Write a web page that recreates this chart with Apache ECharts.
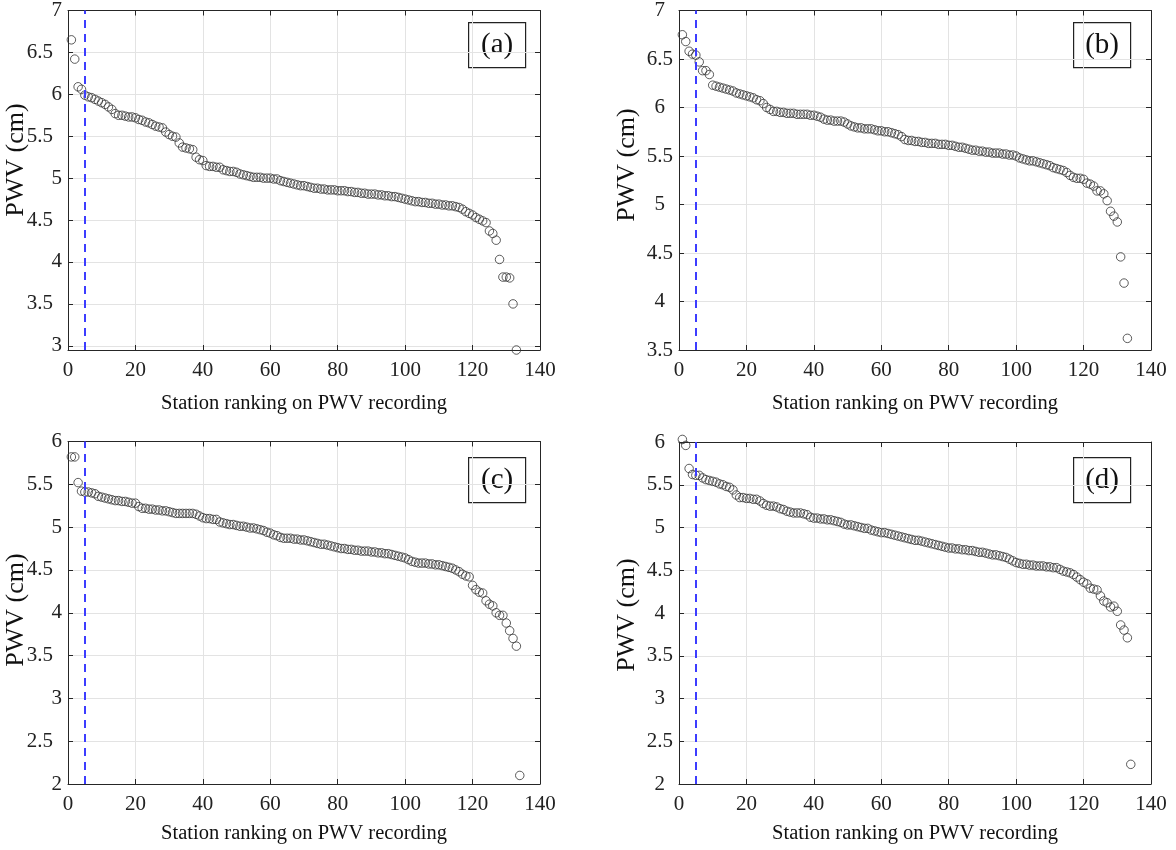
<!DOCTYPE html>
<html><head><meta charset="utf-8">
<script src="https://cdn.jsdelivr.net/npm/echarts@6/dist/echarts.min.js"></script>
<style>html,body{margin:0;padding:0;background:#fff}#c{width:1176px;height:850px}</style>
</head><body><div id="c"></div>
<script>
// ---- data (PWV in cm, ranked stations 1..N) ----
const pwvA = [6.65,6.42,6.09,6.06,5.99,5.97,5.96,5.94,5.92,5.90,
5.88,5.85,5.82,5.77,5.75,5.75,5.74,5.73,5.73,5.72,
5.70,5.69,5.67,5.66,5.64,5.62,5.61,5.60,5.55,5.52,
5.50,5.49,5.42,5.37,5.36,5.35,5.34,5.25,5.22,5.21,
5.15,5.14,5.14,5.13,5.13,5.10,5.09,5.08,5.08,5.07,
5.05,5.04,5.03,5.02,5.01,5.01,5.01,5.00,5.00,5.00,
4.99,4.99,4.97,4.96,4.95,4.94,4.93,4.92,4.91,4.91,
4.90,4.89,4.88,4.88,4.87,4.87,4.86,4.86,4.86,4.85,
4.85,4.85,4.84,4.84,4.83,4.83,4.82,4.82,4.81,4.81,
4.81,4.80,4.80,4.79,4.79,4.78,4.78,4.77,4.76,4.75,
4.74,4.73,4.72,4.72,4.71,4.71,4.70,4.70,4.69,4.69,
4.68,4.68,4.67,4.67,4.66,4.65,4.63,4.60,4.58,4.56,
4.53,4.51,4.49,4.47,4.37,4.34,4.26,4.03,3.82,3.82,
3.81,3.50,2.95];
const pwvB = [6.75,6.68,6.58,6.55,6.54,6.47,6.38,6.38,6.34,6.23,
6.22,6.21,6.20,6.19,6.18,6.17,6.15,6.14,6.13,6.12,
6.11,6.10,6.08,6.07,6.04,6.00,5.98,5.96,5.96,5.95,
5.95,5.94,5.94,5.94,5.93,5.93,5.93,5.93,5.92,5.92,
5.91,5.90,5.88,5.87,5.87,5.86,5.86,5.86,5.85,5.83,
5.81,5.80,5.79,5.79,5.78,5.78,5.78,5.77,5.76,5.76,
5.75,5.75,5.74,5.73,5.72,5.70,5.67,5.66,5.66,5.65,
5.65,5.64,5.64,5.63,5.63,5.63,5.62,5.62,5.62,5.61,
5.61,5.60,5.59,5.59,5.58,5.57,5.56,5.56,5.55,5.55,
5.54,5.54,5.53,5.53,5.53,5.52,5.52,5.51,5.51,5.50,
5.48,5.47,5.46,5.45,5.45,5.44,5.43,5.42,5.41,5.40,
5.38,5.37,5.36,5.35,5.33,5.30,5.28,5.27,5.27,5.26,
5.22,5.21,5.19,5.14,5.14,5.11,5.04,4.93,4.88,4.82,
4.46,4.19,3.62];
const pwvC = [5.82,5.82,5.52,5.42,5.41,5.41,5.40,5.39,5.36,5.35,
5.34,5.33,5.32,5.31,5.31,5.30,5.30,5.29,5.28,5.28,
5.24,5.22,5.22,5.21,5.21,5.20,5.20,5.19,5.19,5.18,
5.17,5.16,5.16,5.16,5.16,5.16,5.16,5.15,5.13,5.11,
5.10,5.10,5.09,5.09,5.06,5.05,5.04,5.03,5.03,5.02,
5.01,5.01,5.00,4.99,4.99,4.98,4.97,4.96,4.94,4.93,
4.91,4.90,4.88,4.87,4.87,4.87,4.86,4.86,4.85,4.85,
4.84,4.83,4.82,4.81,4.80,4.80,4.79,4.78,4.77,4.76,
4.75,4.75,4.74,4.74,4.73,4.73,4.72,4.72,4.72,4.71,
4.71,4.70,4.70,4.69,4.69,4.68,4.67,4.66,4.65,4.64,
4.62,4.60,4.59,4.58,4.58,4.58,4.57,4.57,4.56,4.56,
4.55,4.54,4.53,4.52,4.50,4.48,4.45,4.43,4.42,4.32,
4.27,4.24,4.23,4.14,4.10,4.08,4.00,3.97,3.97,3.88,
3.79,3.70,3.61,2.10];
const pwvD = [6.03,5.96,5.69,5.62,5.61,5.61,5.58,5.56,5.55,5.54,
5.53,5.51,5.50,5.48,5.47,5.44,5.38,5.35,5.35,5.34,
5.34,5.33,5.33,5.31,5.28,5.26,5.25,5.25,5.24,5.22,
5.21,5.19,5.18,5.17,5.17,5.17,5.16,5.15,5.12,5.11,
5.11,5.10,5.10,5.09,5.09,5.08,5.07,5.06,5.04,5.03,
5.03,5.02,5.01,5.00,4.99,4.99,4.97,4.96,4.95,4.94,
4.94,4.93,4.92,4.91,4.90,4.89,4.88,4.87,4.86,4.85,
4.85,4.84,4.83,4.82,4.81,4.80,4.79,4.78,4.77,4.76,
4.76,4.75,4.75,4.74,4.74,4.73,4.73,4.72,4.71,4.71,
4.70,4.69,4.68,4.68,4.67,4.66,4.65,4.63,4.61,4.59,
4.58,4.57,4.57,4.56,4.56,4.55,4.55,4.55,4.54,4.54,
4.53,4.53,4.51,4.49,4.48,4.47,4.45,4.42,4.39,4.36,
4.34,4.29,4.28,4.27,4.20,4.14,4.12,4.07,4.08,4.02,
3.86,3.80,3.71,2.23];
const panelLabels = ['(a)','(b)','(c)','(d)'];
const xTicks = [0,20,40,60,80,100,120,140];
const yTicksA = [3,3.5,4,4.5,5,5.5,6,6.5,7];
const yTicksB = [3.5,4,4.5,5,5.5,6,6.5,7];
const yTicksCD = [2,2.5,3,3.5,4,4.5,5,5.5,6];
const yRangeA = [2.95,7];
const yRangeB = [3.5,7];
const yRangeCD = [2,6];
const thresholdRank = 5;
const xName = 'Station ranking on PWV recording';
const yName = 'PWV (cm)';

// ---- layout ----
const panels = [
  {data: pwvA, yr: yRangeA, yt: yTicksA, g: {left: 68, top: 9.5, width: 472, height: 340.5}, box: [468, 22], yn: [16.5, 160], xGap: 43, padDec: 9, padInt: 0},
  {data: pwvB, yr: yRangeB, yt: yTicksB, g: {left: 679, top: 9.5, width: 472, height: 340.5}, box: [1073, 22], yn: [627.5, 165], xGap: 43, padDec: 0, padInt: 8},
  {data: pwvC, yr: yRangeCD, yt: yTicksCD, g: {left: 68, top: 441.5, width: 472, height: 342.5}, box: [468, 457], yn: [16.5, 610], xGap: 39, padDec: 9, padInt: 0},
  {data: pwvD, yr: yRangeCD, yt: yTicksCD, g: {left: 679, top: 442, width: 472, height: 342}, box: [1073, 457], yn: [627.5, 615], xGap: 39, padDec: 0, padInt: 8}
];
const FONT = '"Liberation Serif", "Times New Roman", serif';
const AX = '#262626';
const GRID = '#e3e3e3';
const TXT = '#222';

const grid = [], xAxis = [], yAxis = [], series = [], graphic = [];
panels.forEach((p, i) => {
  grid.push(Object.assign({containLabel: false}, p.g));
  const tick = {show: true, inside: true, length: 5, lineStyle: {color: AX, width: 1}};
  const line = {show: true, onZero: false, lineStyle: {color: AX, width: 1}};
  xAxis.push({
    type: 'value', gridIndex: i, min: xTicks[0], max: xTicks[xTicks.length - 1], interval: 20,
    position: 'bottom', axisLine: line, axisTick: tick,
    axisLabel: {fontFamily: FONT, fontSize: 21, color: TXT, margin: 10},
    splitLine: {show: true, lineStyle: {color: GRID, width: 1}},
    name: xName, nameLocation: 'middle', nameGap: p.xGap,
    nameTextStyle: {fontFamily: FONT, fontSize: 20.5, color: '#111'}
  });
  xAxis.push({
    type: 'value', gridIndex: i, min: xTicks[0], max: xTicks[xTicks.length - 1], interval: 20,
    position: 'top', axisLine: line, axisTick: tick,
    axisLabel: {show: false}, splitLine: {show: false}
  });
  yAxis.push({
    type: 'value', gridIndex: i, min: p.yr[0], max: p.yr[1],
    position: 'left', axisLine: line,
    axisTick: Object.assign({customValues: p.yt}, tick),
    axisLabel: {
      customValues: p.yt, margin: 6,
      formatter: v => (Math.round(v) === v ? '{i|' + v + '}' : '{d|' + v + '}'),
      rich: {
        i: {fontFamily: FONT, fontSize: 21, color: TXT, padding: [0, p.padInt, 0, 0]},
        d: {fontFamily: FONT, fontSize: 21, color: TXT, padding: [0, p.padDec, 0, 0]}
      }
    },
    splitLine: {show: true, lineStyle: {color: GRID, width: 1}}
  });
  yAxis.push({
    type: 'value', gridIndex: i, min: p.yr[0], max: p.yr[1],
    position: 'right', axisLine: line,
    axisTick: Object.assign({customValues: p.yt}, tick),
    axisLabel: {show: false, customValues: p.yt}, splitLine: {show: false}
  });
  series.push({
    type: 'scatter', xAxisIndex: 2 * i, yAxisIndex: 2 * i, clip: false,
    data: p.data.map((v, k) => [k + 1, v]),
    symbol: 'circle', symbolSize: 8.5,
    itemStyle: {color: 'rgba(0,0,0,0)', borderColor: '#333', borderWidth: 1},
    markLine: {
      silent: true, symbol: ['none', 'none'], animation: false,
      label: {show: false},
      lineStyle: {color: '#3d3dff', type: [8, 6], width: 2},
      data: [{xAxis: thresholdRank}]
    }
  });
  graphic.push({
    type: 'text', x: p.yn[0], y: p.yn[1], rotation: Math.PI / 2,
    style: {text: yName, font: '26px ' + FONT, fill: '#111', align: 'center', verticalAlign: 'middle'}
  });
  graphic.push({
    type: 'group', left: p.box[0], top: p.box[1],
    children: [
      {type: 'rect', shape: {x: 0, y: 0, width: 57, height: 45}, style: {fill: '#fff', stroke: '#222', lineWidth: 1.2}},
      {type: 'text', x: 28.5, y: 22.5, style: {text: panelLabels[i], font: '29px ' + FONT, fill: '#111', align: 'center', verticalAlign: 'middle'}}
    ]
  });
});

const chart = echarts.init(document.getElementById('c'), null, {renderer: 'canvas'});
chart.setOption({animation: false, backgroundColor: '#fff', grid, xAxis, yAxis, series, graphic});
</script>
</body></html>
